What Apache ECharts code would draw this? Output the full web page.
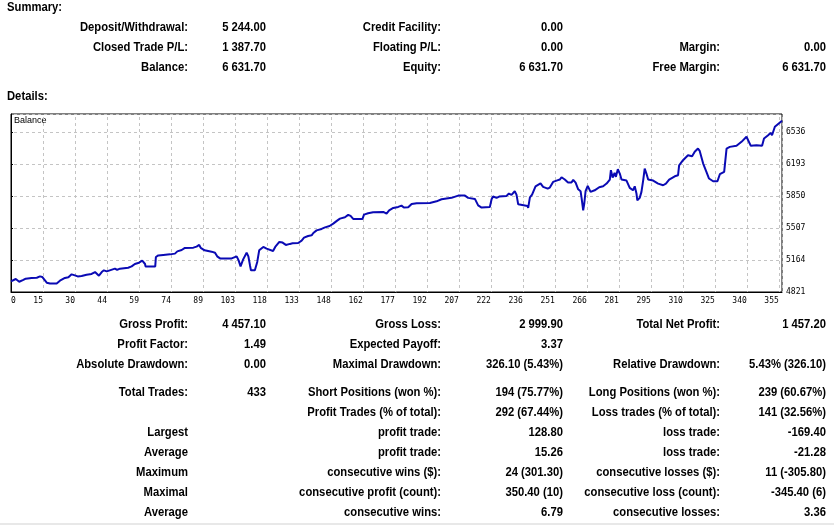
<!DOCTYPE html>
<html>
<head>
<meta charset="utf-8">
<script src="https://cdn.jsdelivr.net/npm/echarts@6/dist/echarts.min.js"></script>
<style>html,body{margin:0;padding:0;background:#fff}#c{width:834px;height:525px}</style>
</head>
<body>
<div id="c"></div>
<script>
// ---- Data ----
// balance curve points: [trade index, balance]
var balancePoints = [[0,4935],[2.2,4960],[3.8,4931],[5.7,4950],[6.8,4964],[9.5,4971],[11.9,4974],[13.4,4988],[14.4,4982],[16.5,4921],[18,4913],[21.1,4913],[22.6,4942],[24.9,4971],[26.5,4978],[28,5010],[29.5,4999],[30.8,4988],[32.6,4992],[34.9,5006],[37.2,5014],[38.8,5035],[39.6,5046],[40.6,4996],[41.9,5035],[42.9,5053],[44.2,5042],[45.6,5053],[48,5071],[49,5057],[50.3,5071],[54.1,5081],[55.7,5095],[57.2,5121],[59.1,5135],[60.6,5157],[61.9,5121],[62.1,5095],[66.6,5095],[66.9,5196],[68,5213],[70.3,5218],[73.4,5224],[75.7,5232],[76.8,5256],[78.8,5271],[80.3,5293],[84.2,5296],[85.7,5307],[86.9,5325],[87.6,5293],[89.4,5267],[92.6,5253],[94.2,5242],[95.2,5203],[96.5,5181],[101.9,5181],[102.6,5196],[104.2,5203],[105.1,5160],[106,5095],[107.2,5170],[108.8,5242],[109.6,5203],[110.4,5100],[110.8,5053],[112.6,5053],[113.7,5143],[114.6,5267],[116.5,5303],[118,5285],[121,5260],[122,5303],[123.9,5357],[125.4,5350],[126.9,5325],[128.8,5336],[130,5342],[132.6,5346],[134.2,5371],[135.3,5403],[137.2,5421],[138.8,5428],[139.6,5453],[141.1,5481],[143.4,5496],[145,5513],[147.1,5528],[148.8,5553],[150.6,5585],[151.9,5607],[154.2,5621],[155.7,5647],[156.8,5636],[158,5604],[162.3,5604],[163,5650],[164.9,5664],[167.2,5674],[171.9,5678],[173.4,5660],[174.6,5696],[176.5,5721],[178.8,5732],[180.3,5746],[181.4,5725],[183.4,5728],[185,5764],[187.3,5771],[193.4,5775],[196.5,5792],[198.8,5814],[203.4,5829],[206.5,5853],[209.6,5853],[211.1,5829],[214.2,5818],[215.7,5749],[217.3,5725],[221.1,5732],[221.9,5814],[222.6,5843],[224.2,5829],[225.4,5843],[228.8,5850],[229.9,5875],[231.1,5861],[232.6,5900],[233.4,5864],[234.2,5760],[235,5743],[238.5,5743],[238.8,5721],[239.6,5835],[240.6,5864],[242.2,5953],[244.5,5985],[245.7,5947],[247.8,5928],[248.8,5939],[250.3,6000],[251.9,6014],[253.4,6025],[254.2,6050],[255.7,6025],[257.2,5993],[258.8,5993],[259.6,6022],[260.7,5993],[261.9,5921],[263,5900],[263.5,5821],[264.2,5696],[264.7,5768],[265.3,5900],[266.3,5957],[267.6,5893],[269.5,5910],[271.6,5943],[273.4,5953],[275,5982],[276.5,6025],[277,6125],[277.8,6046],[278.7,6097],[279.3,6054],[280.2,6135],[281.1,6089],[281.9,6025],[284.2,6014],[284.9,6007],[285.7,5936],[287.2,5910],[288,5953],[288.8,5875],[289.2,5803],[290.3,5829],[291.1,5893],[291.9,6017],[292.6,6143],[293.4,6089],[294.2,6025],[296.5,6014],[297.3,6017],[298.8,5982],[301.1,5964],[302.4,5982],[303.9,6025],[306.5,6060],[308,6071],[308.5,6178],[310.3,6232],[312.6,6285],[314.5,6275],[315.7,6322],[317.2,6357],[318,6332],[319.6,6196],[321.1,6107],[322.3,6036],[324.2,6007],[326.2,6007],[327.3,6082],[329.3,6107],[330.4,6357],[331.9,6375],[335,6386],[337.3,6429],[339.6,6483],[341.6,6386],[344.2,6393],[346.8,6386],[347.7,6464],[349.6,6500],[350.7,6525],[351.4,6500],[352.7,6590],[354.5,6625],[356,6654]];
var xTickLabels = ['0','15','30','44','59','74','89','103','118','133','148','162','177','192','207','222','236','251','266','281','295','310','325','340','355'];
var yTickLabels = ['4821','5164','5507','5850','6193','6536'];

var summaryLabelsA = ['Deposit/Withdrawal:','Closed Trade P/L:','Balance:'];
var summaryValuesA = ['5 244.00','1 387.70','6 631.70'];
var summaryLabelsB = ['Credit Facility:','Floating P/L:','Equity:'];
var summaryValuesB = ['0.00','0.00','6 631.70'];
var summaryLabelsC = ['','Margin:','Free Margin:'];
var summaryValuesC = ['','0.00','6 631.70'];

var detailRow1 = ['Gross Profit:','4 457.10','Gross Loss:','2 999.90','Total Net Profit:','1 457.20'];
var detailRow2 = ['Profit Factor:','1.49','Expected Payoff:','3.37','',''];
var detailRow3 = ['Absolute Drawdown:','0.00','Maximal Drawdown:','326.10 (5.43%)','Relative Drawdown:','5.43% (326.10)'];
var detailRow4 = ['Total Trades:','433','Short Positions (won %):','194 (75.77%)','Long Positions (won %):','239 (60.67%)'];
var detailRow5 = ['','','Profit Trades (% of total):','292 (67.44%)','Loss trades (% of total):','141 (32.56%)'];
var detailRow6 = ['Largest','','profit trade:','128.80','loss trade:','-169.40'];
var detailRow7 = ['Average','','profit trade:','15.26','loss trade:','-21.28'];
var detailRow8 = ['Maximum','','consecutive wins ($):','24 (301.30)','consecutive losses ($):','11 (-305.80)'];
var detailRow9 = ['Maximal','','consecutive profit (count):','350.40 (10)','consecutive loss (count):','-345.40 (6)'];
var detailRow10 = ['Average','','consecutive wins:','6.79','consecutive losses:','3.36'];

// ---- Layout ----
var FONT_FAMILY = '"Liberation Sans", Arial, sans-serif';
var FONT_SIZE = 12.5;
var SCALE_X = 0.9;
var colRight = [188, 266, 441, 563, 720, 826];
var summaryRowY = [28, 48, 68];
var detailRowY = [325, 345, 365, 393, 413, 433, 453, 473, 493, 513];

var graphics = [];
function txt(s, x, y, align, opts) {
  if (!s) return;
  opts = opts || {};
  graphics.push({
    type: 'text', x: x, y: y, scaleX: opts.scaleX || SCALE_X, silent: true,
    style: {
      text: s, fill: '#000',
      font: (opts.weight || 'bold') + ' ' + (opts.size || FONT_SIZE) + 'px ' + (opts.family || FONT_FAMILY),
      align: align, verticalAlign: 'middle', textAlign: align, textVerticalAlign: 'middle'
    }
  });
}
txt('Summary:', 7, 8, 'left');
txt('Details:', 7, 97, 'left');
var sumCols = [summaryLabelsA, summaryValuesA, summaryLabelsB, summaryValuesB, summaryLabelsC, summaryValuesC];
for (var c = 0; c < 6; c++) for (var r = 0; r < 3; r++) txt(sumCols[c][r], colRight[c], summaryRowY[r], 'right');
var detailRows = [detailRow1,detailRow2,detailRow3,detailRow4,detailRow5,detailRow6,detailRow7,detailRow8,detailRow9,detailRow10];
for (var r2 = 0; r2 < detailRows.length; r2++) for (var c2 = 0; c2 < 6; c2++) txt(detailRows[r2][c2], colRight[c2], detailRowY[r2], 'right');
txt('Balance', 14, 121, 'left', {weight: 'normal', size: 9, scaleX: 1});
graphics.push({type: 'rect', silent: true, shape: {x: 0, y: 523, width: 834, height: 2}, style: {fill: '#e8e8e8'}});

var xStep = 14.772, xMax = 356, yMin = 4821, yStep = 343, yMax = 6727;
function nearestLabel(arr, v) {
  var best = arr[0], bd = Infinity;
  arr.forEach(function (l) { var d = Math.abs(+l - v); if (d < bd) { bd = d; best = l; } });
  return best;
}

var chart = echarts.init(document.getElementById('c'), null, {renderer: 'canvas'});
chart.setOption({
  animation: false,
  backgroundColor: '#fff',
  grid: {show: true, left: 11, right: 52, top: 114, bottom: 233, borderColor: '#000', borderWidth: 1, backgroundColor: 'transparent'},
  xAxis: {
    type: 'value', min: 0, max: xMax, interval: xStep,
    axisLine: {show: true, lineStyle: {color: '#000', width: 1}},
    axisTick: {show: false},
    axisLabel: {
      formatter: function (v) { return nearestLabel(xTickLabels, v); },
      fontFamily: '"DejaVu Sans Mono", monospace', fontSize: 8, color: '#000',
      align: 'right', alignMinLabel: 'left', showMaxLabel: false, margin: 5
    },
    splitLine: {show: true, lineStyle: {color: '#c4c4c4', type: [3, 3], dashOffset: 3, width: 1}}
  },
  yAxis: {
    type: 'value', position: 'right', min: yMin, max: yMax, interval: yStep,
    axisLine: {show: true, lineStyle: {color: '#000', width: 1}},
    axisTick: {show: true, length: 2, lineStyle: {color: '#000'}},
    axisLabel: {
      formatter: function (v) { return nearestLabel(yTickLabels, v); },
      fontFamily: '"DejaVu Sans Mono", monospace', fontSize: 8, color: '#000',
      showMaxLabel: false, margin: 4, padding: [0, 0, 5, 0]
    },
    splitLine: {show: true, lineStyle: {color: '#c4c4c4', type: [3, 3], dashOffset: 3, width: 1}}
  },
  series: [{
    type: 'line', showSymbol: false, symbol: 'none',
    data: balancePoints,
    lineStyle: {color: '#0a0ab4', width: 2}, z: 5
  }],
  graphic: graphics
});
</script>
</body>
</html>
